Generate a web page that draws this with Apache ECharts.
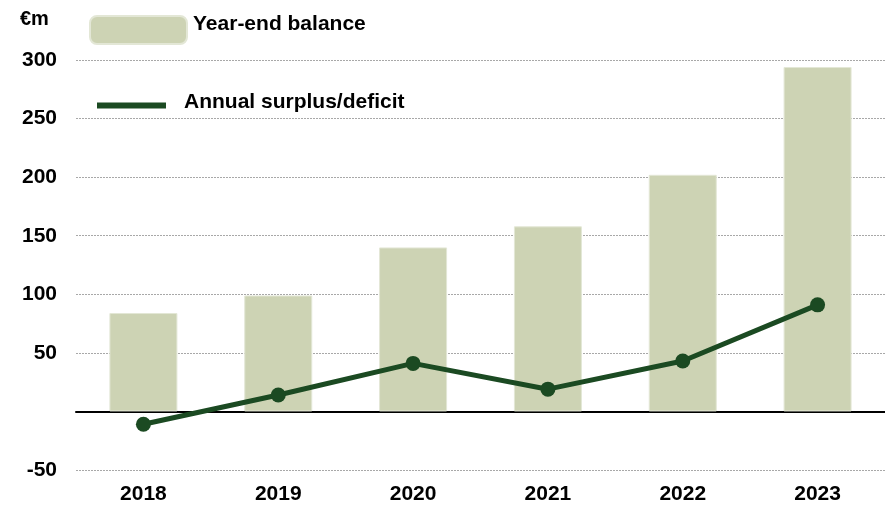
<!DOCTYPE html>
<html><head><meta charset="utf-8">
<script src="https://cdn.jsdelivr.net/npm/echarts@6/dist/echarts.min.js"></script>
<style>html,body{margin:0;padding:0;background:#fff}#c{width:885px;height:507px}</style>
</head><body><div id="c"></div>
<script>
const categories = ['2018','2019','2020','2021','2022','2023'];
const yearEndBalance = [84, 99, 140, 158, 202, 294];
const annualSurplus = [-11, 14, 41, 19, 43, 91];
const barName = 'Year-end balance';
const lineName = 'Annual surplus/deficit';
const unitLabel = '€m';

const font = '"Liberation Sans", Arial, sans-serif';
const fs = 21;
const txt = { fontFamily: font, fontSize: fs, fontWeight: 'bold', color: '#000' };
const chart = echarts.init(document.getElementById('c'));
chart.setOption({
  animation: false,
  title: { text: unitLabel, left: 15, top: 4, padding: 5, textStyle: Object.assign({}, txt, { fontSize: 20 }) },
  legend: [
    { data: [barName], left: 84, top: 9, itemWidth: 97, itemHeight: 28, icon: 'roundRect',
      formatter: '{a|{name}}',
      textStyle: Object.assign({}, txt, { rich: { a: Object.assign({}, txt, { padding: [0, 0, 11, 1] }) } }) },
    { data: [lineName], left: 92, top: 87, itemWidth: 69, itemHeight: 6, icon: 'rect',
      formatter: '{a|{name}}',
      textStyle: Object.assign({}, txt, { rich: { a: Object.assign({}, txt, { padding: [0, 0, 6, 13] }) } }) }
  ],
  grid: { left: 76, right: -6, top: 60, bottom: 37 },
  xAxis: {
    type: 'category', data: categories,
    axisLine: { onZero: true, lineStyle: { color: '#000', width: 2 } },
    axisTick: { show: false },
    axisLabel: Object.assign({}, txt, { margin: 14, interval: 0 }),
    position: 'bottom'
  },
  yAxis: {
    type: 'value', min: -50, max: 300, interval: 50,
    axisLine: { show: false }, axisTick: { show: false },
    axisLabel: Object.assign({}, txt, { margin: 19, formatter: v => v === 0 ? '' : String(v) }),
    splitLine: { lineStyle: { color: '#a8a8a8', type: [2, 1], width: 1 } }
  },
  series: [
    { name: barName, type: 'bar', data: yearEndBalance, barWidth: 68,
      itemStyle: { color: '#cdd3b4', borderColor: '#e3e7d6', borderWidth: 1 } },
    { name: lineName, type: 'line', data: annualSurplus, symbol: 'circle', symbolSize: 15,
      lineStyle: { color: '#1b4a22', width: 5 }, itemStyle: { color: '#1b4a22' }, z: 5 }
  ]
});
</script></body></html>
